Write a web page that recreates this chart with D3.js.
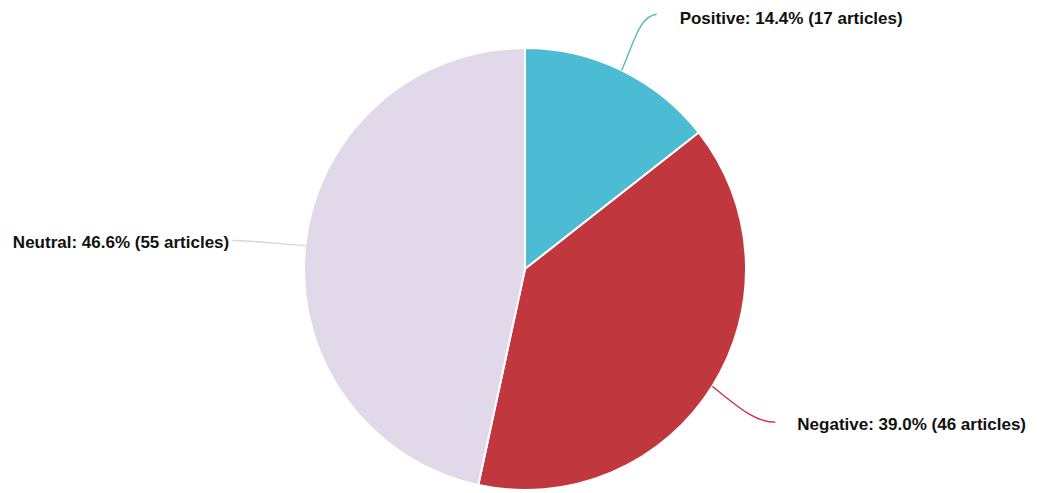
<!DOCTYPE html>
<html><head><meta charset="utf-8">
<script src="https://cdn.jsdelivr.net/npm/d3@7"></script>
<style>body{margin:0;background:#fff}svg{display:block}</style>
</head><body>
<svg id="c" width="1037" height="493"></svg>
<script>
const categories = ["Positive", "Negative", "Neutral"];
const counts = [17, 46, 55];
const colors = ["#4bbcd3", "#c0383e", "#e1d9ea"];
const connectorColors = ["#4cbcaa", "#c8304a", "#d9d4dc"];

const W = 1037, H = 493, cx = 525, cy = 269, R = 221;
const svg = d3.select("#c");
const total = d3.sum(counts);
const data = categories.map((c, i) => ({ name: c, value: counts[i], color: colors[i], cc: connectorColors[i] }));

const pie = d3.pie().value(d => d.value).sort(null);
const arcs = pie(data);
const arc = d3.arc().innerRadius(0).outerRadius(R);
const g = svg.append("g").attr("transform", `translate(${cx},${cy})`);
g.selectAll("path.slice").data(arcs).join("path")
  .attr("class", "slice")
  .attr("d", arc)
  .attr("fill", d => d.data.color)
  .attr("stroke", "#fff").attr("stroke-width", 2).attr("stroke-linejoin", "round");

// label layout (positions relative to the slice's outer edge point)
const layout = [
  { dx: 35, dy: -56, anchor: "start", tx: 58, ty: -52, c1: [13, -30], c2: [18, -54] },
  { dx: 63, dy: 36, anchor: "start", tx: 85, ty: 38, c1: [30, 25], c2: [45, 36] },
  { dx: -73, dy: -5, anchor: "end", tx: -76, ty: -3, c1: [-30, -2], c2: [-55, -5] }
];
const fmt = d3.format(".1f");
arcs.forEach((a, i) => {
  const mid = (a.startAngle + a.endAngle) / 2;
  const ex = cx + R * Math.sin(mid), ey = cy - R * Math.cos(mid);
  const L = layout[i];
  const p = d3.path();
  p.moveTo(ex, ey);
  p.bezierCurveTo(ex + L.c1[0], ey + L.c1[1], ex + L.c2[0], ey + L.c2[1], ex + L.dx, ey + L.dy);
  svg.append("path").attr("d", p.toString()).attr("fill", "none")
    .attr("stroke", a.data.cc).attr("stroke-width", 1.3);
  svg.append("text")
    .attr("x", ex + L.tx).attr("y", ey + L.ty)
    .attr("text-anchor", L.anchor)
    .attr("dominant-baseline", "central")
    .attr("font-family", "Liberation Sans, Arial, sans-serif")
    .attr("font-weight", "bold").attr("font-size", 17)
    .attr("fill", "#111")
    .text(`${a.data.name}: ${fmt(a.data.value / total * 100)}% (${a.data.value} articles)`);
});
</script>
</body></html>
